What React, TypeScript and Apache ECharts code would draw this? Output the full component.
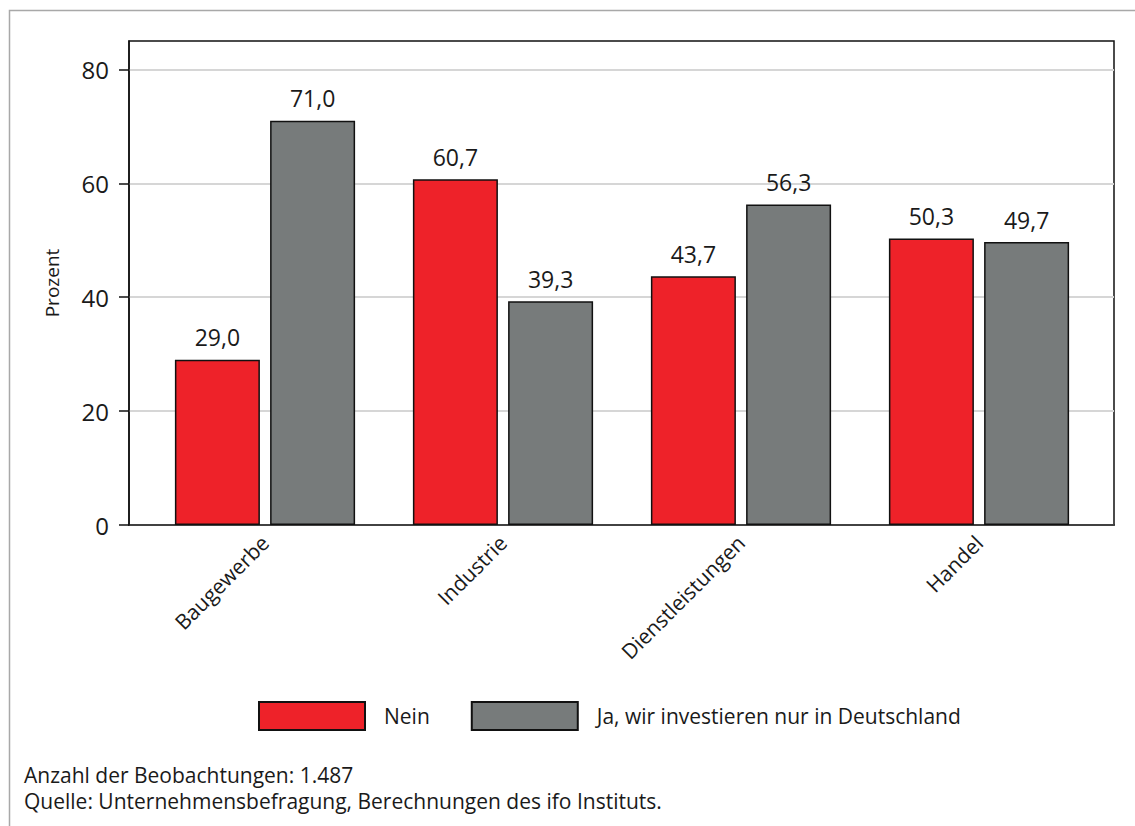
import React, { useEffect, useRef } from "react";
import * as echarts from "echarts";

const categories = ["Baugewerbe", "Industrie", "Dienstleistungen", "Handel"];
const nein = [29.0, 60.7, 43.7, 50.3];
const ja = [71.0, 39.3, 56.3, 49.7];
const yTicks = [0, 20, 40, 60, 80];
const seriesNames = ["Nein", "Ja, wir investieren nur in Deutschland"];
const noteLines = [
  "Anzahl der Beobachtungen: 1.487",
  "Quelle: Unternehmensbefragung, Berechnungen des ifo Instituts.",
];

const FONT = "'Open Sans', 'Noto Sans', sans-serif";
const TXT = "#1a1a1a";

export default function App() {
  const ref = useRef<HTMLDivElement>(null);
  useEffect(() => {
    if (!ref.current) return;
    const chart = echarts.init(ref.current, undefined, { renderer: "svg" });
    const fmt = (v: number) => v.toFixed(1).replace(".", ",");
    const barLabel = {
      show: true,
      position: "top",
      distance: 11,
      fontSize: 23,
      color: TXT,
      fontFamily: FONT,
      formatter: (p: any) => fmt(p.value),
    };
    chart.setOption({
      animation: false,
      textStyle: { fontFamily: FONT },
      grid: [
        {
          left: 129,
          top: 41,
          width: 985,
          height: 484,
          show: true,
          borderColor: "#111",
          borderWidth: 1.5,
          backgroundColor: "transparent",
        },
        { left: 146, top: 41, width: 952, height: 484 },
      ],
      xAxis: [
        {
          gridIndex: 0,
          type: "value",
          min: 0,
          max: 1,
          axisLine: { show: true, onZero: false, lineStyle: { color: "#111", width: 1.5 } },
          axisTick: { show: false },
          axisLabel: { show: false },
          splitLine: { show: false },
        },
        {
          gridIndex: 1,
          type: "category",
          data: categories,
          axisLine: { show: false },
          axisTick: { show: false },
          axisLabel: {
            rotate: 45,
            fontSize: 21,
            color: TXT,
            margin: 14,
            fontFamily: FONT,
          },
        },
      ],
      yAxis: [
        {
          gridIndex: 0,
          type: "value",
          min: 0,
          max: 85,
          interval: 20,
          name: "Prozent",
          nameLocation: "middle",
          nameGap: 68,
          nameTextStyle: { fontSize: 19, color: TXT, fontFamily: FONT },
          axisLine: { show: true, lineStyle: { color: "#111", width: 1.5 } },
          axisTick: {
            show: true,
            length: 10,
            customValues: yTicks,
            lineStyle: { color: "#111", width: 1.5 },
          },
          axisLabel: {
            fontSize: 24,
            color: TXT,
            margin: 20,
            customValues: yTicks,
            fontFamily: FONT,
          },
          splitLine: { show: true, lineStyle: { color: "#d6d6d6", width: 2 } },
        },
        {
          gridIndex: 1,
          type: "value",
          min: 0,
          max: 85,
          show: false,
          splitLine: { show: false },
        },
      ],
      legend: {
        left: 258,
        top: 701,
        padding: 0,
        itemWidth: 106,
        itemHeight: 28,
        itemGap: 41,
        icon: "rect",
        textStyle: { fontSize: 21, color: TXT, fontFamily: FONT, padding: [0, 0, 0, 14] },
        data: seriesNames,
      },
      series: [
        {
          name: seriesNames[0],
          type: "bar",
          xAxisIndex: 1,
          yAxisIndex: 1,
          data: nein,
          barWidth: 85,
          barGap: "12%",
          itemStyle: { color: "#ee2229", borderColor: "#111", borderWidth: 1.5 },
          label: barLabel,
        },
        {
          name: seriesNames[1],
          type: "bar",
          xAxisIndex: 1,
          yAxisIndex: 1,
          data: ja,
          barWidth: 85,
          barGap: "12%",
          itemStyle: { color: "#777b7b", borderColor: "#111", borderWidth: 1.5 },
          label: barLabel,
        },
      ],
      graphic: [
        {
          type: "rect",
          shape: { x: 9.5, y: 10.5, width: 1300, height: 1000 },
          style: { fill: "none", stroke: "#a8a8a8", lineWidth: 1.5 },
          silent: true,
        },
        {
          type: "text",
          x: 24,
          y: 775,
          style: {
            text: noteLines[0],
            fontSize: 21,
            fill: TXT,
            fontFamily: FONT,
            verticalAlign: "middle",
          },
        },
        {
          type: "text",
          x: 24,
          y: 801,
          style: {
            text: noteLines[1],
            fontSize: 21,
            fill: TXT,
            fontFamily: FONT,
            verticalAlign: "middle",
          },
        },
      ],
    });
    return () => chart.dispose();
  }, []);
  return (
    <div
      ref={ref}
      style={{ position: "fixed", left: 0, top: 0, width: 1135, height: 826, background: "#fff" }}
    />
  );
}
